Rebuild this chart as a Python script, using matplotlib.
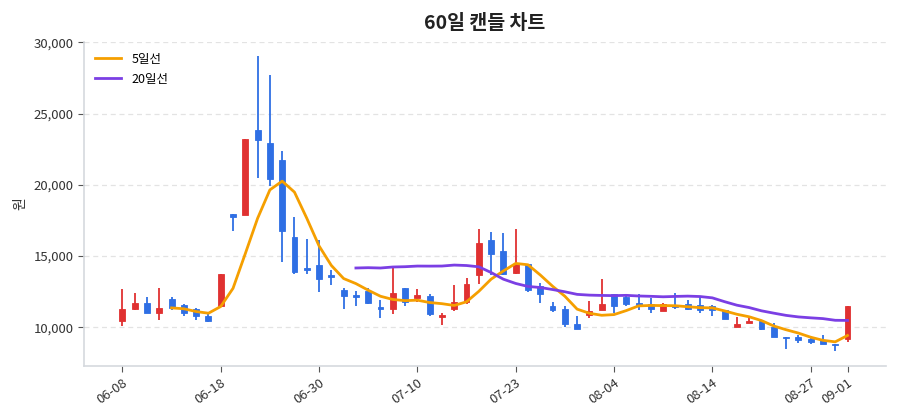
import matplotlib
matplotlib.use("Agg")
import matplotlib.pyplot as plt
import numpy as np
import pandas as pd

plt.rcParams['font.family'] = ['Noto Sans CJK KR', 'DejaVu Sans']

# 60 trading days
opens = [10420, 11260, 11740, 11030, 11970, 11570, 11260, 10790, 11520, 17920,
         17850, 23840, 22950, 21730, 16340, 14190, 14360, 13700, 12650, 12250,
         12530, 11450, 11260, 12740, 12040, 12180, 10720, 11310, 11780, 13650,
         16110, 15360, 13830, 14430, 12930, 11500, 11310, 10260, 10840, 11240,
         12370, 12130, 11710, 11670, 11150, 11550, 11620, 11600, 11520, 11240,
         10020, 10330, 10420, 10020, 9320, 9320, 9160, 9140, 8860, 9160]
highs = [12720, 12410, 12130, 12760, 12130, 11670, 11360, 11030, 13720, 17920,
         23190, 29040, 27700, 22390, 17710, 16230, 16110, 14050, 12790, 12530,
         12760, 11950, 14170, 12790, 12700, 12370, 11030, 12950, 13460, 16930,
         16700, 16650, 16900, 14430, 13140, 11760, 11480, 10770, 11830, 13390,
         12370, 12180, 12370, 12060, 11710, 12410, 11950, 12180, 11600, 11240,
         10720, 10650, 10420, 10330, 9320, 9490, 9390, 9440, 8860, 11480]
lows = [10070, 11200, 11030, 10540, 11240, 10790, 10490, 10350, 11520, 16740,
        17850, 20490, 19900, 14590, 13770, 13770, 12480, 13000, 11260, 11500,
        11670, 10680, 10960, 11500, 11780, 10770, 10190, 11150, 11670, 13070,
        13700, 13650, 13770, 12480, 11710, 11080, 10020, 9910, 10680, 11240,
        11040, 11480, 11240, 11000, 11150, 11310, 11190, 11000, 10790, 10560,
        10020, 10330, 9840, 9320, 8460, 8930, 8860, 8810, 8310, 8970]
closes = [11310, 11740, 11030, 11360, 11380, 11000, 10770, 10440, 13720, 17750,
          23190, 23140, 20420, 16790, 13890, 14050, 13420, 13560, 12200, 12110,
          11740, 11290, 12440, 11780, 12280, 10910, 10890, 11810, 13070, 15950,
          15180, 13770, 14450, 12600, 12370, 11240, 10260, 9910, 11150, 11670,
          11480, 11670, 11550, 11310, 11620, 11430, 11310, 11240, 11220, 10560,
          10260, 10420, 9910, 9320, 9250, 9090, 8970, 8810, 8790, 11480]

tick_idx = [0, 8, 16, 24, 32, 40, 48, 56, 59]
tick_labels = ['06-08', '06-18', '06-30', '07-10', '07-23', '08-04', '08-14', '08-27', '09-01']

UP = '#e03131'
DOWN = '#2f6fe4'

df = pd.DataFrame({'open': opens, 'high': highs, 'low': lows, 'close': closes})
df['ma5'] = df['close'].rolling(5).mean()
df['ma20'] = df['close'].rolling(20).mean()
x = np.arange(len(df))

fig = plt.figure(figsize=(9, 4.2), dpi=100)
ax = fig.add_axes([0.093, 0.128, 0.891, 0.773])

colors = [UP if c >= o else DOWN for o, c in zip(df['open'], df['close'])]
ax.vlines(x, df['low'], df['high'], colors=colors, linewidth=1.3, zorder=2)
body_low = np.minimum(df['open'], df['close'])
body_h = np.maximum(np.abs(df['close'] - df['open']), 60)
ax.bar(x, body_h, bottom=body_low, width=0.48, color=colors,
       edgecolor=colors, linewidth=0.6, zorder=3)

ax.plot(x, df['ma5'], color='#f59f00', linewidth=2, label='5일선', zorder=4)
ax.plot(x, df['ma20'], color='#7b3fe4', linewidth=2, label='20일선', zorder=4)

ax.set_xlim(-3.15, 62.1)
ax.set_ylim(7270, 30050)
ax.set_yticks([10000, 15000, 20000, 25000, 30000])
ax.yaxis.set_major_formatter(matplotlib.ticker.FuncFormatter(lambda v, p: f'{int(v):,}'))
ax.set_xticks(tick_idx)
ax.set_xticklabels(tick_labels, rotation=35, ha='right', rotation_mode='anchor')

ax.grid(axis='y', linestyle=(0, (4, 3)), color='#e3e3e3', linewidth=0.9)
ax.set_axisbelow(True)
for s in ['top', 'right']:
    ax.spines[s].set_visible(False)
for s in ['left', 'bottom']:
    ax.spines[s].set_color('#d5d9de')
    ax.spines[s].set_linewidth(1.2)
ax.tick_params(axis='both', labelsize=9.5, colors='#555555', labelcolor='#333333', length=4)

ax.set_ylabel('원', fontsize=10, color='#333333')
ax.set_title('60일 캔들 차트', fontsize=14, fontweight='bold', color='#222222', pad=9)
ax.legend(loc='upper left', frameon=False, fontsize=9, handlelength=2.1,
          handletextpad=0.8, labelspacing=0.55, borderaxespad=0.5)

fig.savefig('out.png', dpi=100)
